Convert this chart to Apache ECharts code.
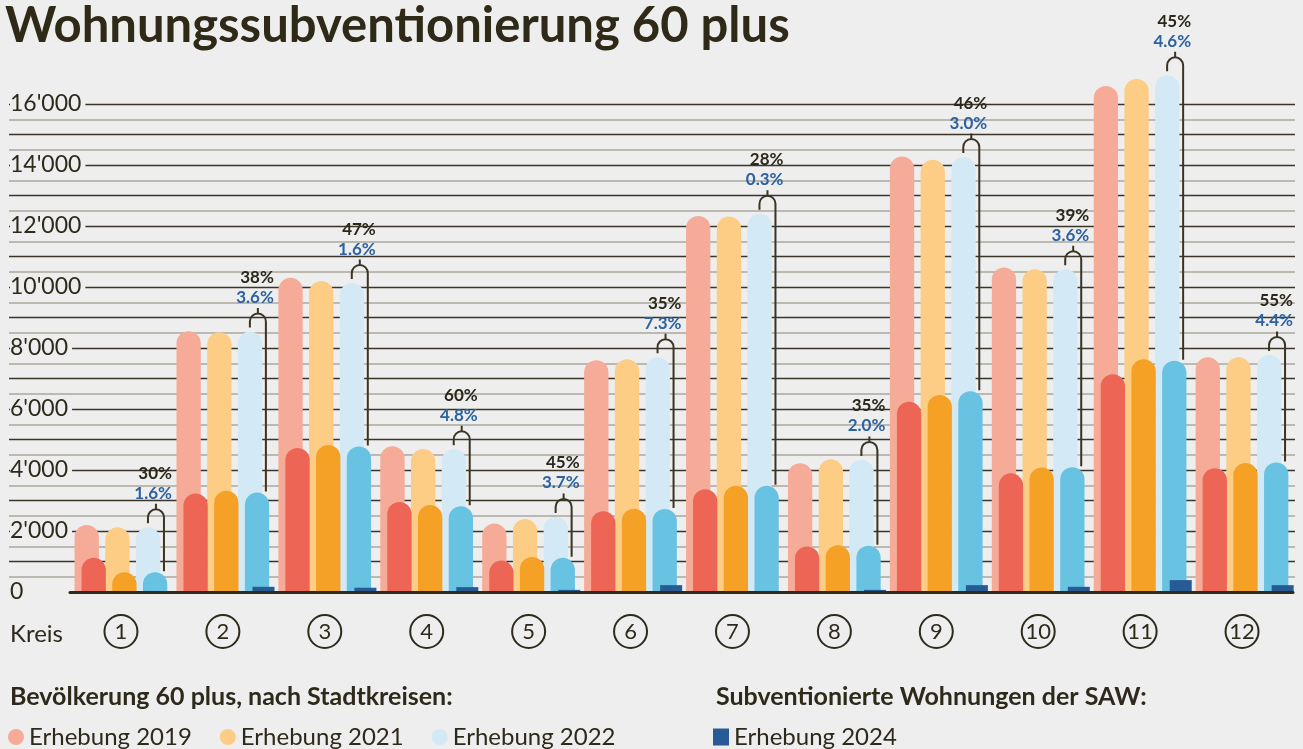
<!DOCTYPE html>
<html><head><meta charset="utf-8">
<script src="https://cdn.jsdelivr.net/npm/echarts@6/dist/echarts.min.js"></script>
<style>html,body{margin:0;padding:0;background:#eeeeee}#c{width:1303px;height:749px}</style>
</head><body><div id="c"></div>
<script>
// ---- data ----
const categories = ['1','2','3','4','5','6','7','8','9','10','11','12'];
const pop2019 = [2200, 8550, 10300, 4780, 2250, 7600, 12330, 4220, 14280, 10640, 16590, 7700];
const pop2021 = [2120, 8520, 10200, 4690, 2390, 7630, 12310, 4350, 14170, 10580, 16820, 7700];
const pop2022 = [2120, 8540, 10130, 4680, 2460, 7700, 12400, 4330, 14260, 10580, 16940, 7770];
const part2019 = [1120, 3230, 4720, 2950, 1030, 2650, 3370, 1490, 6240, 3890, 7140, 4060];
const part2021 = [650, 3320, 4820, 2850, 1150, 2730, 3480, 1530, 6460, 4080, 7630, 4230];
const part2022 = [650, 3260, 4770, 2810, 1120, 2720, 3480, 1520, 6580, 4090, 7580, 4250];
const saw2024 = [15, 170, 140, 160, 70, 225, 30, 70, 225, 170, 390, 225];
const shareLabels = ['30%','38%','47%','60%','45%','35%','28%','35%','46%','39%','45%','55%'];
const sawShareLabels = ['1.6%','3.6%','1.6%','4.8%','3.7%','7.3%','0.3%','2.0%','3.0%','3.6%','4.6%','4.4%'];
const yTickValues = [0, 2000, 4000, 6000, 8000, 10000, 12000, 14000, 16000];

// ---- styles ----
const FONT = 'Lato, "Open Sans", sans-serif';
const TXT = '#2e2a1b';
const BG = '#eeeeee';
const C = {
  l2019: '#f6ab98', l2021: '#fdcd86', l2022: '#d3e9f5',
  d2019: '#ec6555', d2021: '#f5a126', d2022: '#68c2e2',
  saw: '#285b93', blueTxt: '#2c62a0', line: '#3a3425'
};
const BAND = 101.9;
function rel(px, api) { return px / BAND * api.size([1, 0])[0]; }

function barSeries(name, values, offset, width, rounded, color) {
  return {
    type: 'custom', name: name, xAxisIndex: 1, yAxisIndex: 3, z: 2,
    itemStyle: { color: color },
    data: values.map((v, i) => [i, v]),
    renderItem: function (params, api) {
      const i = api.value(0), v = api.value(1);
      const p0 = api.coord([i, 0]), p1 = api.coord([i, v]);
      const w = rel(width, api);
      const x = p0[0] + rel(offset, api);
      const h = p0[1] - p1[1];
      return {
        type: 'rect',
        shape: { x: x, y: p1[1], width: w, height: h, r: rounded ? [w / 2, w / 2, 0, 0] : 0 },
        style: { fill: color }
      };
    }
  };
}

const bracketSeries = {
  type: 'custom', name: 'bracket', xAxisIndex: 1, yAxisIndex: 3, z: 4,
  data: pop2022.map((v, i) => [i, v, part2022[i]]),
  renderItem: function (params, api) {
    const i = api.value(0);
    const top = api.coord([i, api.value(1)])[1];
    const dark = api.coord([i, api.value(2)])[1];
    const c = api.coord([i, 0])[0];
    const xl = c + rel(27, api), xr = c + rel(43, api);
    const xm = (xl + xr) / 2, rr = (xr - xl) / 2;
    const yc = top - 10, yArc = yc - rr, yTick = yArc - 5.5;
    const d = 'M' + xl + ' ' + (top - 4) + ' L' + xl + ' ' + yc +
      ' A' + rr + ' ' + rr + ' 0 0 1 ' + xr + ' ' + yc +
      ' L' + xr + ' ' + (dark - 1) +
      ' M' + xm + ' ' + yArc + ' L' + xm + ' ' + yTick;
    const idx = params.dataIndex;
    return {
      type: 'group',
      children: [
        { type: 'path', shape: { pathData: d }, style: { fill: null, stroke: C.line, lineWidth: 2 } },
        { type: 'text', x: xm + 16, y: top - 34,
          style: { text: sawShareLabels[idx], fill: C.blueTxt, font: 'bold 17px ' + FONT, align: 'right', verticalAlign: 'middle', textAlign: 'right', textVerticalAlign: 'middle' } },
        { type: 'text', x: xm + 16, y: top - 54,
          style: { text: shareLabels[idx], fill: '#2b2719', font: 'bold 17px ' + FONT, align: 'right', verticalAlign: 'middle', textAlign: 'right', textVerticalAlign: 'middle' } }
      ]
    };
  }
};

const N = 37; // 0..18000 step 500
const grayColors = [], darkColors = [];
for (let k = 0; k < N; k++) {
  grayColors.push(k % 2 === 1 && k <= 32 ? '#bcb9b1' : 'rgba(0,0,0,0)');
  darkColors.push(k % 2 === 0 && k > 0 && k <= 32 ? '#3b3527' : 'rgba(0,0,0,0)');
}

function fmtThousands(v) {
  if (v >= 1000) { const t = Math.floor(v / 1000); return t + "'" + String(v % 1000).padStart(3, '0'); }
  return String(v);
}

const chart = echarts.init(document.getElementById('c'));
chart.setOption({
  animation: false,
  backgroundColor: BG,
  title: {
    text: 'Wohnungssubventionierung 60 plus', left: 5, top: 2, padding: 0,
    textStyle: { fontFamily: FONT, fontSize: 49, fontWeight: 'bold', color: '#2f2a17' }
  },
  grid: [
    { left: 9, right: 8, top: 43, bottom: 157 },
    { left: 70, right: 10, top: 43, bottom: 157 }
  ],
  xAxis: [
    { gridIndex: 0, type: 'value', show: false },
    { gridIndex: 1, type: 'category', data: categories, boundaryGap: true, z: 3,
      axisTick: { show: false },
      axisLine: { lineStyle: { color: '#2e2a1c', width: 3 } },
      axisLabel: {
        fontFamily: FONT, fontSize: 22, color: TXT, margin: 23,
        width: 33, height: 33, lineHeight: 33, align: 'center', verticalAlign: 'top',
        borderColor: '#2e2a1c', borderWidth: 2, borderRadius: 18, padding: 0
      } }
  ],
  yAxis: [
    { gridIndex: 0, type: 'value', position: 'left', min: 0, max: 18000, interval: 500,
      axisLine: { show: false }, axisTick: { show: false }, axisLabel: { show: false },
      splitLine: { show: true, lineStyle: { color: grayColors, width: 2 } } },
    { gridIndex: 0, type: 'value', position: 'left', min: 0, max: 18000, interval: 500,
      axisLine: { show: false }, axisTick: { show: false }, axisLabel: { show: false },
      splitLine: { show: true, lineStyle: { color: darkColors, width: 1.4 } } },
    { gridIndex: 0, type: 'value', position: 'left', min: 0, max: 18000, interval: 2000, z: 1,
      axisLine: { show: false }, axisTick: { show: false }, splitLine: { show: false },
      axisLabel: {
        inside: true, margin: 1, fontFamily: FONT, fontSize: 23, color: TXT,
        backgroundColor: BG, padding: [2, 4, 2, 0],
        formatter: v => (yTickValues.indexOf(v) >= 0 ? fmtThousands(v) : '')
      } },
    { gridIndex: 1, type: 'value', min: 0, max: 18000, show: false }
  ],
  legend: [
    { data: ['Erhebung 2019', 'Erhebung 2021', 'Erhebung 2022'], left: 8, top: 725, padding: 0,
      icon: 'circle', itemWidth: 16, itemHeight: 16, itemGap: 28, selectedMode: false,
      textStyle: { fontFamily: FONT, fontSize: 24, color: TXT } },
    { data: ['Erhebung 2024'], left: 713, top: 725, padding: 0,
      icon: 'rect', itemWidth: 16, itemHeight: 17, selectedMode: false,
      textStyle: { fontFamily: FONT, fontSize: 24, color: TXT } }
  ],
  graphic: [
    { type: 'text', left: 10, top: 622, style: { text: 'Kreis', font: '24px ' + FONT, fill: TXT } },
    { type: 'text', left: 10, top: 684, style: { text: 'Bevölkerung 60 plus, nach Stadtkreisen:', font: 'bold 25px ' + FONT, fill: TXT } },
    { type: 'text', left: 716, top: 684, style: { text: 'Subventionierte Wohnungen der SAW:', font: 'bold 25px ' + FONT, fill: TXT } }
  ],
  series: [
    barSeries('Erhebung 2019', pop2019, -46.4, 24.3, true, C.l2019),
    barSeries('Erhebung 2021', pop2021, -15.7, 24.3, true, C.l2021),
    barSeries('Erhebung 2022', pop2022, 15.0, 24.3, true, C.l2022),
    barSeries('Teil 2019', part2019, -39.4, 24.3, true, C.d2019),
    barSeries('Teil 2021', part2021, -8.7, 24.3, true, C.d2021),
    barSeries('Teil 2022', part2022, 22.0, 24.3, true, C.d2022),
    barSeries('Erhebung 2024', saw2024, 29.6, 22, false, C.saw),
    bracketSeries
  ]
});
</script>
</body></html>
